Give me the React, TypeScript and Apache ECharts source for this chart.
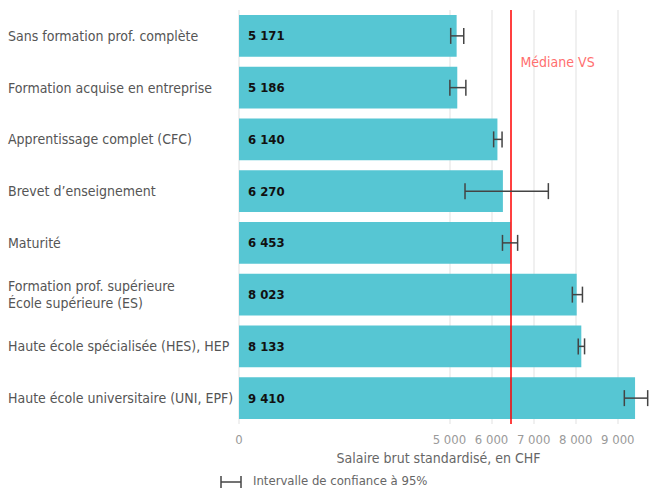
import React, { useEffect, useRef } from "react";
import * as echarts from "echarts";

const categories = [
  "Sans formation prof. complète",
  "Formation acquise en entreprise",
  "Apprentissage complet (CFC)",
  "Brevet d’enseignement",
  "Maturité",
  "Formation prof. supérieure\nÉcole supérieure (ES)",
  "Haute école spécialisée (HES), HEP",
  "Haute école universitaire (UNI, EPF)",
];
const salaries = [5171, 5186, 6140, 6270, 6453, 8023, 8133, 9410];
const ciLow = [5030, 5010, 6050, 5370, 6260, 7920, 8060, 9155];
const ciHigh = [5340, 5390, 6250, 7350, 6620, 8160, 8210, 9710];
const medianVS = 6450;
const tickValues = [0, 5000, 6000, 7000, 8000, 9000];
const axisMax = 9765;

const FONT = "'DejaVu Sans Condensed', 'Liberation Sans Narrow', sans-serif";

const fmt = (v: number) =>
  String(Math.round(v)).replace(/\B(?=(\d{3})+(?!\d))/g, " ");

export default function App() {
  const ref = useRef<HTMLDivElement>(null);
  useEffect(() => {
    if (!ref.current) return;
    const chart = echarts.init(ref.current, undefined, { renderer: "svg" });
    const gridColors: string[] = [];
    for (let v = 0; v <= 9000; v += 1000) {
      gridColors.push(tickValues.indexOf(v) >= 0 ? "#ebebeb" : "rgba(0,0,0,0)");
    }
    gridColors.push("rgba(0,0,0,0)");
    const option: any = {
      animation: false,
      textStyle: { fontFamily: FONT },
      grid: { left: 239, right: 0, top: 10, bottom: 65, containLabel: false },
      xAxis: {
        type: "value",
        min: 0,
        max: axisMax,
        interval: 1000,
        axisLine: { show: false },
        axisTick: { show: false },
        axisLabel: {
          color: "#9a9a9a",
          fontSize: 13,
          fontFamily: FONT,
          margin: 9,
          formatter: (v: number) => (tickValues.indexOf(v) >= 0 ? fmt(v) : ""),
        },
        splitLine: { show: true, lineStyle: { color: gridColors, width: 1.5 } },
        name: "Salaire brut standardisé, en CHF",
        nameLocation: "middle",
        nameGap: 22,
        nameTextStyle: { color: "#666", fontSize: 14, fontFamily: FONT, padding: [0, 12, 0, 0] },
      },
      yAxis: {
        type: "category",
        data: categories,
        inverse: true,
        axisLine: { show: false },
        axisTick: { show: false },
        axisLabel: {
          align: "left",
          margin: 231,
          color: "#555",
          fontSize: 14,
          lineHeight: 17,
          fontFamily: FONT,
        },
      },
      series: [
        {
          type: "bar",
          data: salaries,
          barCategoryGap: "19%",
          itemStyle: { color: "#56c6d3" },
          label: {
            show: true,
            position: "insideLeft",
            distance: 9,
            color: "#111",
            fontWeight: "bold",
            fontSize: 13,
            fontFamily: FONT,
            formatter: (p: any) => fmt(p.value),
          },
          markLine: {
            silent: true,
            symbol: "none",
            label: { show: false },
            lineStyle: { color: "#ff0000", width: 1.5, type: "solid" },
            data: [{ xAxis: medianVS }],
          },
          z: 2,
        },
        {
          type: "custom",
          data: categories.map((_, i) => [i, ciLow[i], ciHigh[i]]),
          encode: { y: 0, x: [1, 2] },
          z: 5,
          renderItem: (params: any, api: any) => {
            const idx = api.value(0);
            const a = api.coord([api.value(1), idx]);
            const b = api.coord([api.value(2), idx]);
            const h = 8;
            const style = { stroke: "#444", lineWidth: 1.5 };
            return {
              type: "group",
              children: [
                { type: "line", shape: { x1: a[0], y1: a[1], x2: b[0], y2: b[1] }, style },
                { type: "line", shape: { x1: a[0], y1: a[1] - h, x2: a[0], y2: a[1] + h }, style },
                { type: "line", shape: { x1: b[0], y1: b[1] - h, x2: b[0], y2: b[1] + h }, style },
              ],
            };
          },
        },
      ],
    };
    chart.setOption(option);
    const p0 = chart.convertToPixel({ gridIndex: 0 } as any, [medianVS, 0]) as number[];
    const p1 = chart.convertToPixel({ gridIndex: 0 } as any, [medianVS, 1]) as number[];
    chart.setOption({
      graphic: [
        {
          type: "text",
          x: p0[0] + 10,
          y: (p0[1] + p1[1]) / 2,
          style: {
            text: "Médiane VS",
            fill: "#ff6f6f",
            fontSize: 14,
            fontFamily: FONT,
            verticalAlign: "middle",
          },
        },
        { type: "line", shape: { x1: 221, y1: 482, x2: 241, y2: 482 }, style: { stroke: "#444", lineWidth: 1.5 } },
        { type: "line", shape: { x1: 221, y1: 476, x2: 221, y2: 488 }, style: { stroke: "#444", lineWidth: 1.5 } },
        { type: "line", shape: { x1: 241, y1: 476, x2: 241, y2: 488 }, style: { stroke: "#444", lineWidth: 1.5 } },
        {
          type: "text",
          x: 253,
          y: 480,
          style: {
            text: "Intervalle de confiance à 95%",
            fill: "#666",
            fontSize: 13,
            fontFamily: FONT,
            verticalAlign: "middle",
          },
        },
      ],
    });
    return () => chart.dispose();
  }, []);
  return (
    <div
      ref={ref}
      style={{ position: "fixed", left: 0, top: 0, width: 653, height: 489, background: "#fff" }}
    />
  );
}
